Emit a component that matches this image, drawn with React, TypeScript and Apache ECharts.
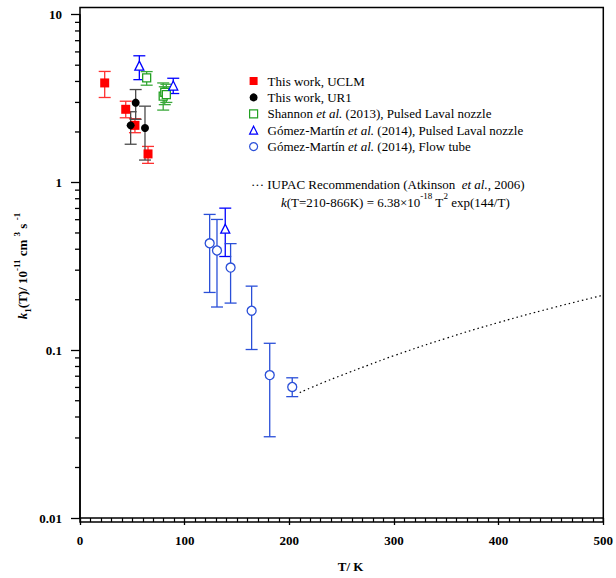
import React, { useEffect, useRef } from "react";
import * as echarts from "echarts";

const FONT = "Liberation Serif, Times New Roman, serif";

// This work, UCLM
const uclmT = [23.6, 43.7, 52.5, 65.0];
const uclmK = [3.92, 2.73, 2.19, 1.48];
const uclmLow = [3.21, 2.43, 1.98, 1.3];
const uclmHigh = [4.59, 3.05, 2.4, 1.64];

// This work, UR1
const ur1T = [48.4, 53.2, 62.1];
const ur1K = [2.19, 2.99, 2.11];
const ur1Low = [1.69, 2.38, 1.36];
const ur1High = [2.64, 3.58, 2.85];

// Shannon et al. (2013)
const shT = [63.7, 79.5, 81.0, 82.5];
const shK = [4.2, 3.27, 3.45, 3.34];
const shLow = [3.8, 2.7, 2.91, 3.0];
const shHigh = [4.58, 3.92, 3.72, 3.85];

// Gómez-Martín et al. (2014), PLN
const gpT = [56.7, 89.1, 138.8];
const gpK = [4.97, 3.78, 0.53];
const gpLow = [4.1, 3.39, 0.362];
const gpHigh = [5.69, 4.18, 0.703];

// Gómez-Martín et al. (2014), flow tube
const ftT = [123.9, 130.9, 143.9, 164.0, 181.3, 202.8];
const ftK = [0.434, 0.393, 0.311, 0.172, 0.0711, 0.0604];
const ftLow = [0.221, 0.181, 0.191, 0.101, 0.0305, 0.0529];
const ftHigh = [0.645, 0.602, 0.432, 0.241, 0.11, 0.0685];

// IUPAC recommendation curve
const iupacT = [210, 230, 250, 275, 300, 350, 400, 450, 500];
const iupacK = [0.0559, 0.0633, 0.0709, 0.0813, 0.0928, 0.1179, 0.1463, 0.1779, 0.2128];

const xTicks = [0, 100, 200, 300, 400, 500];
const yMinorTicks = [
  0.02, 0.03, 0.04, 0.05, 0.06, 0.07, 0.08, 0.09,
  0.2, 0.3, 0.4, 0.5, 0.6, 0.7, 0.8, 0.9,
  2, 3, 4, 5, 6, 7, 8, 9,
];

const legendNames = [
  "This work, UCLM",
  "This work, UR1",
  "Shannon et al. (2013), Pulsed Laval nozzle",
  "Gómez-Martín et al. (2014), Pulsed Laval nozzle",
  "Gómez-Martín et al. (2014), Flow tube",
];

const zip2 = (a: number[], b: number[]) => a.map((v, i) => [v, b[i]]);
const zip3 = (a: number[], b: number[], c: number[]) => a.map((v, i) => [v, b[i], c[i]]);

function errSeries(t: number[], lo: number[], hi: number[], color: string, capHalf = 6) {
  return {
    type: "custom",
    z: 2,
    silent: true,
    clip: false,
    data: zip3(t, lo, hi),
    encode: { x: 0, y: [1, 2] },
    renderItem: (params: any, api: any) => {
      const x = api.value(0);
      const a = api.coord([x, api.value(1)]);
      const b = api.coord([x, api.value(2)]);
      const st = { stroke: color, lineWidth: 1.3 };
      return {
        type: "group",
        children: [
          { type: "line", shape: { x1: a[0], y1: a[1], x2: b[0], y2: b[1] }, style: st },
          { type: "line", shape: { x1: a[0] - capHalf, y1: a[1], x2: a[0] + capHalf, y2: a[1] }, style: st },
          { type: "line", shape: { x1: b[0] - capHalf, y1: b[1], x2: b[0] + capHalf, y2: b[1] }, style: st },
        ],
      };
    },
  };
}

export default function App() {
  const ref = useRef<HTMLDivElement>(null);
  useEffect(() => {
    document.body.style.margin = "0";
    const chart = echarts.init(ref.current!, null, { renderer: "svg" });
    const red = "#ff0000";
    const green = "#22a022";
    const blueT = "#0000ff";
    const blueC = "#2a4fd8";
    const option: any = {
      animation: false,
      backgroundColor: "#ffffff",
      textStyle: { fontFamily: FONT },
      grid: { left: 80, right: 12.7, top: 14.7, bottom: 56 },
      legend: {
        orient: "vertical",
        left: 244,
        top: 69,
        itemWidth: 8,
        itemHeight: 8,
        itemGap: 2.4,
        selectedMode: false,
        textStyle: {
          fontFamily: FONT,
          fontSize: 13,
          color: "#000",
          lineHeight: 14,
          rich: {
            sp: { width: 5, lineHeight: 14 },
            n: { fontFamily: FONT, fontSize: 13, color: "#000", lineHeight: 14 },
            i: { fontFamily: FONT, fontSize: 13, fontStyle: "italic", color: "#000", lineHeight: 14 },
          },
        },
        formatter: (name: string) => {
          const parts = name.split("et al.");
          return parts.length > 1
            ? "{sp|}{n|" + parts[0] + "}{i|et al.}{n|" + parts[1] + "}"
            : "{sp|}{n|" + name + "}";
        },
        data: [
          { name: legendNames[0], icon: "rect", itemStyle: { color: red, borderWidth: 0 } },
          { name: legendNames[1], icon: "circle", itemStyle: { color: "#000", borderWidth: 0 } },
          { name: legendNames[2], icon: "rect", itemStyle: { color: "#fff", borderColor: green, borderWidth: 1.2 } },
          { name: legendNames[3], icon: "triangle", itemStyle: { color: "#fff", borderColor: blueT, borderWidth: 1.2 } },
          { name: legendNames[4], icon: "circle", itemStyle: { color: "#fff", borderColor: blueC, borderWidth: 1.2 } },
        ],
      },
      xAxis: {
        type: "value",
        min: xTicks[0],
        max: xTicks[xTicks.length - 1],
        interval: 100,
        name: "T/ K",
        nameLocation: "middle",
        nameGap: 42,
        nameTextStyle: { fontFamily: FONT, fontSize: 13, fontWeight: "bold", color: "#000", padding: [0, 0, 0, 18] },
        axisLine: { show: true, lineStyle: { color: "#000", width: 1.5 } },
        axisTick: { show: true, length: 7, lineStyle: { color: "#000", width: 1.3 } },
        minorTick: { show: true, splitNumber: 10, length: 4, lineStyle: { color: "#000", width: 1.2 } },
        splitLine: { show: false },
        axisLabel: { fontFamily: FONT, fontSize: 13, fontWeight: "bold", color: "#000", margin: 16 },
      },
      yAxis: {
        type: "log",
        logBase: 10,
        min: 0.01,
        max: 10,
        axisLine: { show: true, lineStyle: { color: "#000", width: 1.5 } },
        axisTick: { show: true, length: 9, lineStyle: { color: "#000", width: 1.3 } },
        splitLine: { show: false },
        axisLabel: {
          fontFamily: FONT,
          fontSize: 13,
          fontWeight: "bold",
          color: "#000",
          margin: 18,
          formatter: (v: number) => String(v),
        },
      },
      graphic: [
        {
          type: "rect",
          z: 0,
          silent: true,
          shape: { x: 80, y: 7.5, width: 523.3, height: 514.5 },
          style: { fill: "none", stroke: "#000", lineWidth: 1.5 },
        },
        {
          type: "text",
          x: 251,
          y: 184,
          silent: true,
          style: {
            text: "{n|··· IUPAC Recommendation (Atkinson  }{i|et al.}{n|, 2006)}",
            textVerticalAlign: "middle",
            rich: {
              n: { fontFamily: FONT, fontSize: 13, fill: "#000" },
              i: { fontFamily: FONT, fontSize: 13, fontStyle: "italic", fill: "#000" },
            },
          },
        },
        {
          type: "text",
          x: 281,
          y: 200,
          silent: true,
          style: {
            text: "{i|k}{n|(T=210-866K) = 6.38×10}{s|-18}{n| T}{s|2}{n| exp(144/T)}",
            textVerticalAlign: "middle",
            rich: {
              n: { fontFamily: FONT, fontSize: 13, fill: "#000", lineHeight: 18, verticalAlign: "bottom" },
              i: { fontFamily: FONT, fontSize: 13, fontStyle: "italic", fill: "#000", lineHeight: 18, verticalAlign: "bottom" },
              s: { fontFamily: FONT, fontSize: 9, fill: "#000", lineHeight: 10, verticalAlign: "top" },
            },
          },
        },
        {
          type: "text",
          x: 22,
          y: 266,
          rotation: Math.PI / 2,
          silent: true,
          style: {
            text: "{i|k}{b|1}{n|(T)/ 10}{s|-11}{n| cm }{s|3}{n| s }{s|-1}",
            textAlign: "center",
            textVerticalAlign: "middle",
            rich: {
              n: { fontFamily: FONT, fontSize: 13, fontWeight: "bold", fill: "#000", lineHeight: 20, verticalAlign: "middle" },
              i: { fontFamily: FONT, fontSize: 13, fontWeight: "bold", fontStyle: "italic", fill: "#000", lineHeight: 20, verticalAlign: "middle" },
              s: { fontFamily: FONT, fontSize: 9, fontWeight: "bold", fill: "#000", lineHeight: 10, verticalAlign: "top" },
              b: { fontFamily: FONT, fontSize: 9, fontWeight: "bold", fill: "#000", lineHeight: 10, verticalAlign: "bottom" },
            },
          },
        },
      ],
      series: [
        {
          type: "custom",
          silent: true,
          clip: false,
          z: 3,
          data: yMinorTicks.map((v) => [xTicks[0], v]),
          encode: { x: 0, y: 1 },
          renderItem: (params: any, api: any) => {
            const p = api.coord([api.value(0), api.value(1)]);
            return {
              type: "line",
              shape: { x1: p[0] - 5, y1: p[1], x2: p[0], y2: p[1] },
              style: { stroke: "#000", lineWidth: 1.3 },
            };
          },
        },
        {
          type: "line",
          name: "IUPAC",
          data: zip2(iupacT, iupacK),
          symbol: "none",
          smooth: true,
          silent: true,
          lineStyle: { color: "#000", width: 1.2, type: [1.5, 3] },
          z: 2,
        },
        errSeries(uclmT, uclmLow, uclmHigh, "#ff3030"),
        errSeries(ur1T, ur1Low, ur1High, "#4a4a4a"),
        errSeries(shT, shLow, shHigh, "#3aa83a"),
        errSeries(gpT, gpLow, gpHigh, blueT),
        errSeries(ftT, ftLow, ftHigh, blueC),
        {
          type: "scatter",
          name: legendNames[0],
          data: zip2(uclmT, uclmK),
          symbol: "rect",
          symbolSize: 9,
          itemStyle: { color: red, opacity: 1 },
          z: 4,
        },
        {
          type: "scatter",
          name: legendNames[1],
          data: zip2(ur1T, ur1K),
          symbol: "circle",
          symbolSize: 8,
          itemStyle: { color: "#000", opacity: 1 },
          z: 4,
        },
        {
          type: "scatter",
          name: legendNames[2],
          data: zip2(shT, shK),
          symbol: "rect",
          symbolSize: 8,
          itemStyle: { color: "#fff", borderColor: green, borderWidth: 1.3, opacity: 1 },
          z: 4,
        },
        {
          type: "scatter",
          name: legendNames[3],
          data: zip2(gpT, gpK),
          symbol: "triangle",
          symbolSize: 9,
          itemStyle: { color: "#fff", borderColor: blueT, borderWidth: 1.3, opacity: 1 },
          z: 4,
        },
        {
          type: "scatter",
          name: legendNames[4],
          data: zip2(ftT, ftK),
          symbol: "circle",
          symbolSize: 9,
          itemStyle: { color: "#fff", borderColor: blueC, borderWidth: 1.3, opacity: 1 },
          z: 4,
        },
      ],
    };
    chart.setOption(option);
    return () => chart.dispose();
  }, []);
  return <div ref={ref} style={{ width: 616, height: 578 }} />;
}
